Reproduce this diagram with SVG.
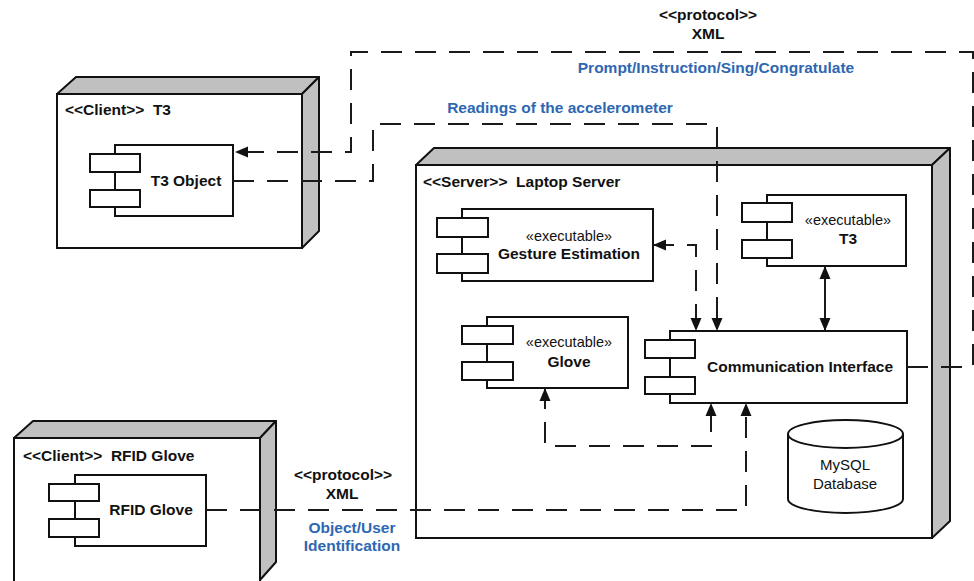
<svg xmlns="http://www.w3.org/2000/svg" width="974" height="581" viewBox="0 0 974 581">
  <style>
    text { font-family: "Liberation Sans", Arial, sans-serif; fill: #111; }
    .b { font-weight: bold; font-size: 15.5px; }
    .n { font-size: 14.5px; }
    .db { font-size: 15px; }
    .blue { fill: #2e67b1; }
    .mid { text-anchor: middle; }
    .face { fill: #ffffff; stroke: #111; stroke-width: 2; }
    .side { fill: #c0c0c0; stroke: #111; stroke-width: 2; stroke-linejoin: round; }
    .box { fill: #ffffff; stroke: #111; stroke-width: 2; }
    .dash { fill: none; stroke: #1a1a1a; stroke-width: 2; stroke-dasharray: 21 13; }
    .solid { fill: none; stroke: #1a1a1a; stroke-width: 2; }
  </style>
  <defs>
    <marker id="arrow" markerUnits="userSpaceOnUse" markerWidth="14" markerHeight="12" refX="13" refY="6" orient="auto-start-reverse">
      <path d="M0,0.5 L13,6 L0,11.5 z" fill="#111"/>
    </marker>
  </defs>

  <rect width="974" height="581" fill="#ffffff"/>

  <!-- Client node: T3 -->
  <g id="node-client-t3">
    <polygon class="side" points="57,94 76,77 319,77 302,94"/>
    <polygon class="side" points="302,94 319,77 319,231 302,248"/>
    <rect class="face" x="57" y="94" width="245" height="154"/>
    <text class="b" x="65" y="115">&lt;&lt;Client&gt;&gt;&#160; T3</text>
    <g id="comp-t3-object">
      <rect class="box" x="115" y="145" width="118" height="71"/>
      <rect class="box" x="90" y="154" width="50" height="18"/>
      <rect class="box" x="90" y="190" width="50" height="17"/>
      <text class="b mid" x="186" y="186">T3 Object</text>
    </g>
  </g>

  <!-- Server node: Laptop Server -->
  <g id="node-server">
    <polygon class="side" points="416,165 434,148 950,148 932,165"/>
    <polygon class="side" points="932,165 950,148 950,521 932,538"/>
    <rect class="face" x="416" y="165" width="516" height="373"/>
    <text class="b" x="423" y="187">&lt;&lt;Server&gt;&gt;&#160; Laptop Server</text>

    <g id="comp-gesture">
      <rect class="box" x="462" y="209" width="191" height="72"/>
      <rect class="box" x="437" y="218" width="51" height="19"/>
      <rect class="box" x="437" y="254" width="51" height="19"/>
      <text class="n mid" x="569" y="241">«executable»</text>
      <text class="b mid" x="569" y="259">Gesture Estimation</text>
    </g>

    <g id="comp-t3-exec">
      <rect class="box" x="767" y="195" width="139" height="71"/>
      <rect class="box" x="742" y="203" width="50" height="19"/>
      <rect class="box" x="742" y="240" width="50" height="18"/>
      <text class="n mid" x="848" y="225">«executable»</text>
      <text class="b mid" x="848" y="244">T3</text>
    </g>

    <g id="comp-glove">
      <rect class="box" x="487" y="317" width="141" height="71"/>
      <rect class="box" x="462" y="326" width="51" height="18"/>
      <rect class="box" x="462" y="362" width="51" height="18"/>
      <text class="n mid" x="569" y="347">«executable»</text>
      <text class="b mid" x="569" y="367">Glove</text>
    </g>

    <g id="comp-comm">
      <rect class="box" x="670" y="331" width="237" height="72"/>
      <rect class="box" x="645" y="340" width="50" height="18"/>
      <rect class="box" x="645" y="377" width="50" height="17"/>
      <text class="b mid" x="800" y="372">Communication Interface</text>
    </g>

    <g id="db-mysql">
      <path class="box" d="M788,434 V499 A57.5,14 0 0 0 903,499 V434"/>
      <ellipse class="box" cx="845.5" cy="434" rx="57.5" ry="14"/>
      <text class="db mid" x="845" y="470">MySQL</text>
      <text class="db mid" x="845" y="489">Database</text>
    </g>
  </g>

  <!-- Client node: RFID Glove -->
  <g id="node-client-rfid">
    <polygon class="side" points="14,438 33,421 276,421 260,438"/>
    <polygon class="side" points="260,438 276,421 276,562 260,580"/>
    <rect class="face" x="14" y="438" width="246" height="150"/>
    <text class="b" x="23" y="461">&lt;&lt;Client&gt;&gt;&#160; RFID Glove</text>
    <g id="comp-rfid-glove">
      <rect class="box" x="75" y="475" width="131" height="71"/>
      <rect class="box" x="49" y="484" width="50" height="17"/>
      <rect class="box" x="49" y="519" width="50" height="18"/>
      <text class="b mid" x="151" y="515">RFID Glove</text>
    </g>
  </g>

  <!-- Connectors -->
  <g id="connectors">
    <!-- XML link: Communication Interface to T3 Object -->
    <path class="dash" d="M907,367 H973 V52 H351 V152 H235" marker-end="url(#arrow)"/>
    <!-- accelerometer readings: T3 Object to Communication Interface -->
    <path class="dash" d="M233,181 H373 V124 H717 V331" marker-end="url(#arrow)"/>
    <!-- Gesture Estimation to/from Communication Interface -->
    <path class="dash" d="M653,245 H696 V331" marker-start="url(#arrow)" marker-end="url(#arrow)"/>
    <!-- T3 executable to/from Communication Interface -->
    <path class="solid" d="M825,266 V331" marker-start="url(#arrow)" marker-end="url(#arrow)"/>
    <!-- Glove executable to/from Communication Interface -->
    <path class="dash" d="M545,388 V446 H711 V403" marker-start="url(#arrow)" marker-end="url(#arrow)"/>
    <!-- RFID Glove to Communication Interface -->
    <path class="dash" d="M206,510 H746 V403" marker-end="url(#arrow)"/>
  </g>

  <!-- Connector labels -->
  <g id="labels">
    <text class="b mid" x="708" y="20">&lt;&lt;protocol&gt;&gt;</text>
    <text class="b mid" x="708" y="39">XML</text>
    <text class="b mid blue" x="716" y="73">Prompt/Instruction/Sing/Congratulate</text>
    <text class="b mid blue" x="560" y="113">Readings of the accelerometer</text>
    <text class="b mid" x="343" y="480">&lt;&lt;protocol&gt;&gt;</text>
    <text class="b mid" x="342" y="499">XML</text>
    <text class="b mid blue" x="352" y="533">Object/User</text>
    <text class="b mid blue" x="352" y="551">Identification</text>
  </g>
</svg>
